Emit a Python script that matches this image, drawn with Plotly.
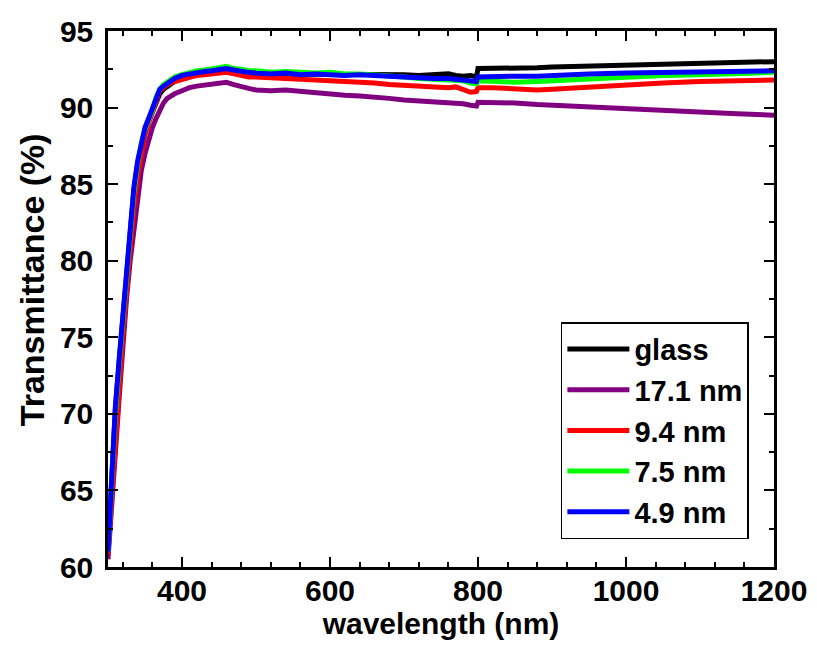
import plotly.graph_objects as go

wavelength = [300, 305, 310, 315, 320, 325, 330, 335, 340, 345, 350, 355, 360, 365, 370, 375, 380,
              390, 400, 410, 420, 430, 440, 450, 460, 470, 480, 490, 500, 520, 540, 560, 580, 600,
              620, 640, 660, 680, 700, 720, 740, 760, 770, 780, 790, 798, 800, 820, 850, 880, 900,
              950, 1000, 1050, 1100, 1150, 1200]

glass = [61.0, 66.3, 70.3, 73.3, 76.1, 79.4, 82.1, 84.6, 86.3, 87.6, 88.5, 89.1, 89.7, 90.4, 90.9, 91.2, 91.4,
         91.7, 92.0, 92.1, 92.2, 92.25, 92.3, 92.35, 92.4, 92.35, 92.3, 92.25, 92.25, 92.2, 92.2, 92.2, 92.15, 92.2,
         92.15, 92.2, 92.2, 92.15, 92.15, 92.1, 92.15, 92.2, 92.1, 92.05, 92.1, 92.0, 92.55, 92.55, 92.6, 92.6, 92.65,
         92.7, 92.75, 92.8, 92.85, 92.9, 93.0]

nm171 = [60.5, 63.5, 67.5, 71.0, 74.5, 77.5, 80.0, 82.0, 84.0, 85.9, 87.0, 88.0, 88.7, 89.3, 89.9, 90.3, 90.6,
         90.9, 91.1, 91.3, 91.4, 91.45, 91.5, 91.55, 91.65, 91.5, 91.35, 91.25, 91.15, 91.1, 91.15, 91.05, 90.95, 90.9,
         90.8, 90.75, 90.7, 90.6, 90.5, 90.45, 90.4, 90.35, 90.3, 90.25, 90.15, 90.1, 90.35, 90.35, 90.3, 90.2, 90.15,
         90.05, 89.95, 89.85, 89.7, 89.6, 89.5]

nm94 = [60.9, 64.5, 68.8, 72.3, 75.0, 78.0, 80.9, 83.5, 85.5, 87.0, 88.2, 89.0, 89.7, 90.6, 91.1, 91.3, 91.5,
        91.7, 91.85, 92.0, 92.1, 92.15, 92.2, 92.25, 92.3, 92.2, 92.1, 92.0, 92.0, 91.95, 91.9, 91.85, 91.8, 91.75,
        91.7, 91.7, 91.6, 91.5, 91.45, 91.35, 91.35, 91.3, 91.35, 91.2, 91.0, 91.05, 91.3, 91.3, 91.2, 91.15, 91.2,
        91.35, 91.5, 91.6, 91.7, 91.75, 91.8]

nm75 = [61.0, 66.0, 70.0, 73.2, 76.0, 79.3, 82.0, 84.5, 86.3, 87.7, 88.6, 89.2, 89.8, 90.7, 91.2, 91.5, 91.7,
        92.0, 92.15, 92.3, 92.4, 92.45, 92.5, 92.6, 92.7, 92.55, 92.5, 92.4, 92.4, 92.3, 92.35, 92.3, 92.25, 92.3,
        92.2, 92.2, 92.15, 92.1, 92.0, 91.9, 91.85, 91.85, 91.8, 91.75, 91.6, 91.55, 91.75, 91.7, 91.65, 91.7, 91.75,
        91.9, 92.0, 92.1, 92.15, 92.25, 92.3]

nm49 = [61.0, 66.5, 70.5, 73.5, 76.3, 79.6, 82.3, 84.8, 86.5, 87.8, 88.7, 89.3, 89.9, 90.7, 91.2, 91.4, 91.6,
        91.9, 92.1, 92.2, 92.3, 92.35, 92.4, 92.5, 92.55, 92.45, 92.35, 92.3, 92.25, 92.2, 92.25, 92.15, 92.2, 92.15,
        92.1, 92.15, 92.1, 92.0, 92.0, 91.95, 91.9, 91.9, 91.85, 91.8, 91.75, 91.7, 92.0, 92.05, 92.05, 92.05, 92.1,
        92.2, 92.25, 92.3, 92.35, 92.4, 92.4]

series_names = ["glass", "17.1 nm", "9.4 nm", "7.5 nm", "4.9 nm"]
series_values = [glass, nm171, nm94, nm75, nm49]
series_colors = ["#000000", "#800080", "#ff0000", "#00ff00", "#0000ff"]

x_ticks = [400, 600, 800, 1000, 1200]
y_ticks = [60, 65, 70, 75, 80, 85, 90, 95]

fig = go.Figure()
for name, vals, col in zip(series_names, series_values, series_colors):
    fig.add_trace(go.Scatter(x=wavelength, y=vals, mode="lines", name=name,
                             line=dict(color=col, width=5)))

FONT = "Liberation Sans, Arial, sans-serif"
tick_font = dict(family=FONT, size=30, color="black", weight="bold")

axis_common = dict(showline=True, linecolor="black", linewidth=2.5, mirror="allticks",
                   ticks="inside", ticklen=10, tickwidth=2, tickcolor="black",
                   showgrid=False, zeroline=False, tickfont=tick_font, automargin=False)

fig.update_xaxes(range=[300, 1200], tickvals=x_ticks, ticktext=[str(v) for v in x_ticks],
                 minor=dict(dtick=40, tick0=0, ticks="inside", ticklen=5, tickwidth=2, tickcolor="black"),
                 title=dict(text="wavelength (nm)", font=dict(family=FONT, size=30, color="black", weight="bold"),
                            standoff=3),
                 ticklabelstandoff=-5,
                 **axis_common)
fig.update_yaxes(range=[60, 95], tickvals=y_ticks, ticktext=[str(v) for v in y_ticks],
                 minor=dict(dtick=2.5, tick0=0, ticks="inside", ticklen=5, tickwidth=2, tickcolor="black"),
                 ticklabelstandoff=6,
                 **axis_common)

# y-axis title placed as a rotated text (slightly below centre, as in the original)
fig.add_annotation(text="Transmittance (%)", textangle=-90, xref="paper", yref="paper",
                   x=0, y=0.535, xanchor="center", yanchor="middle", xshift=-76, showarrow=False,
                   font=dict(family=FONT, size=34, color="black", weight="bold"))

fig.update_layout(
    width=817, height=654,
    margin=dict(l=100, r=51, t=23, b=95),
    paper_bgcolor="white", plot_bgcolor="white",
    legend=dict(x=0.68, y=0.052, xanchor="left", yanchor="bottom",
                bordercolor="black", borderwidth=1.5, bgcolor="white",
                font=dict(family=FONT, size=29, color="black", weight="bold"),
                itemwidth=62, tracegroupgap=0),
    showlegend=True,
)

fig.write_html("out.html")
